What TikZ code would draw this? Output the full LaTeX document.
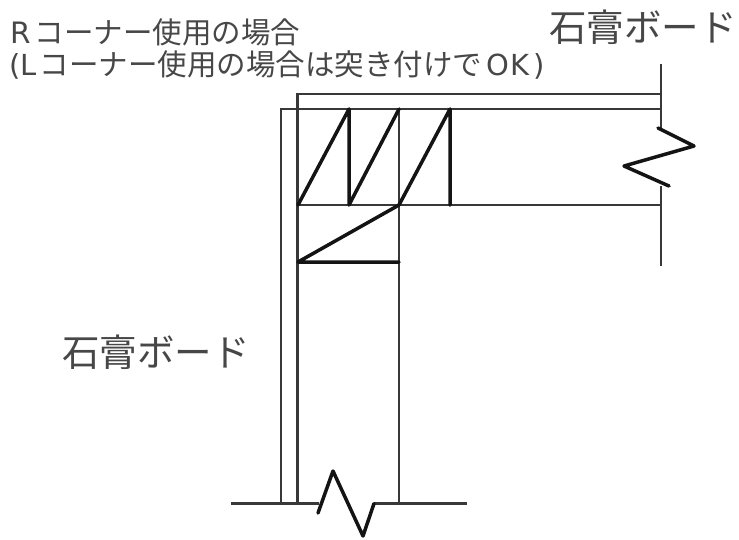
\documentclass[tikz,border=0pt]{standalone}
\usepackage{fontspec}
\newfontfamily\jpfont{Noto Sans CJK JP}
\newfontfamily\latfont{DejaVu Sans}
\tikzset{
  thinline/.style={draw=black!78,line width=2.8pt},
  boldline/.style={draw=black!92,line width=3.5pt,line cap=round,line join=round},
  caption/.style={font=\jpfont\fontsize{29.5}{29.5}\selectfont,text=black!72,inner sep=0pt,anchor=base west},
  boardlabel/.style={font=\jpfont\fontsize{37.5}{37.5}\selectfont,text=black!72,inner sep=0pt,anchor=base west}
}
\begin{document}
\begin{tikzpicture}[x=1pt,y=-1pt]
\useasboundingbox (0,0) rectangle (739,539);
% captions
\node[caption] (capA) at (10,43) {{\latfont R}\hspace{4pt}コーナー使用の場合};
\node[caption] (capB) at (9,75) {{\latfont\fontsize{29}{29}\selectfont (L}\hspace{3pt}コーナー使用の場合は突き付けで\hspace{4pt}{\latfont\fontsize{29}{29}\selectfont O\hspace{2pt}K\hspace{4pt})}};
\node[boardlabel] (bdTop) at (549,41) {石膏ボード};
\node[boardlabel] (bdLeft) at (62,366) {石膏ボード};
% frame
\coordinate (wTop) at (661,64);
\coordinate (wA) at (661,94);
\coordinate (wB) at (661,109);
\coordinate (wC) at (661,205);
\coordinate (wZ) at (661,129);
\coordinate (wY) at (661,186);
\coordinate (wEnd) at (661,266);
\coordinate (o1) at (281,109);
\coordinate (o2) at (297.5,94);
\coordinate (o1b) at (281,503.5);
\coordinate (o2b) at (297.5,503.5);
\coordinate (c1) at (298,205);
\coordinate (c2) at (349,205);
\coordinate (c3) at (399,205);
\coordinate (c4) at (450,205);
\coordinate (t1) at (349,109);
\coordinate (t2) at (399,109);
\coordinate (t3) at (450,109);
\coordinate (c3b) at (399,503.5);
\coordinate (m1) at (298,262);
\coordinate (m2) at (399,262);
\coordinate (gL) at (231,503.5);
\coordinate (gR) at (467,503.5);
\coordinate (gA) at (319,503.5);
\coordinate (gB) at (374,503.5);
% thin lines
\draw[thinline] (o2b) -- (o2) -- (wA);
\draw[thinline] (o1b) -- (o1) -- (wB);
\draw[thinline] (c1) -- (wC);
\draw[thinline] (t2) -- (c3b);
\draw[thinline] (wTop) -- (wZ);
\draw[thinline] (wY) -- (wEnd);
\draw[thinline] (gL) -- (gA);
\draw[thinline] (gB) -- (gR);
% bold lines
\draw[boldline] (c1) -- (t1) -- (c2) -- (t2);
\draw[boldline] (c3) -- (t3) -- (c4);
\draw[boldline] (c3) -- (m1) -- (m2);
% break marks
\draw[boldline] (658,128) -- (694,146) -- (624,166) -- (669,186);
\draw[boldline] (318,513) -- (333,471) -- (363,536) -- (gB);
\end{tikzpicture}
\end{document}
